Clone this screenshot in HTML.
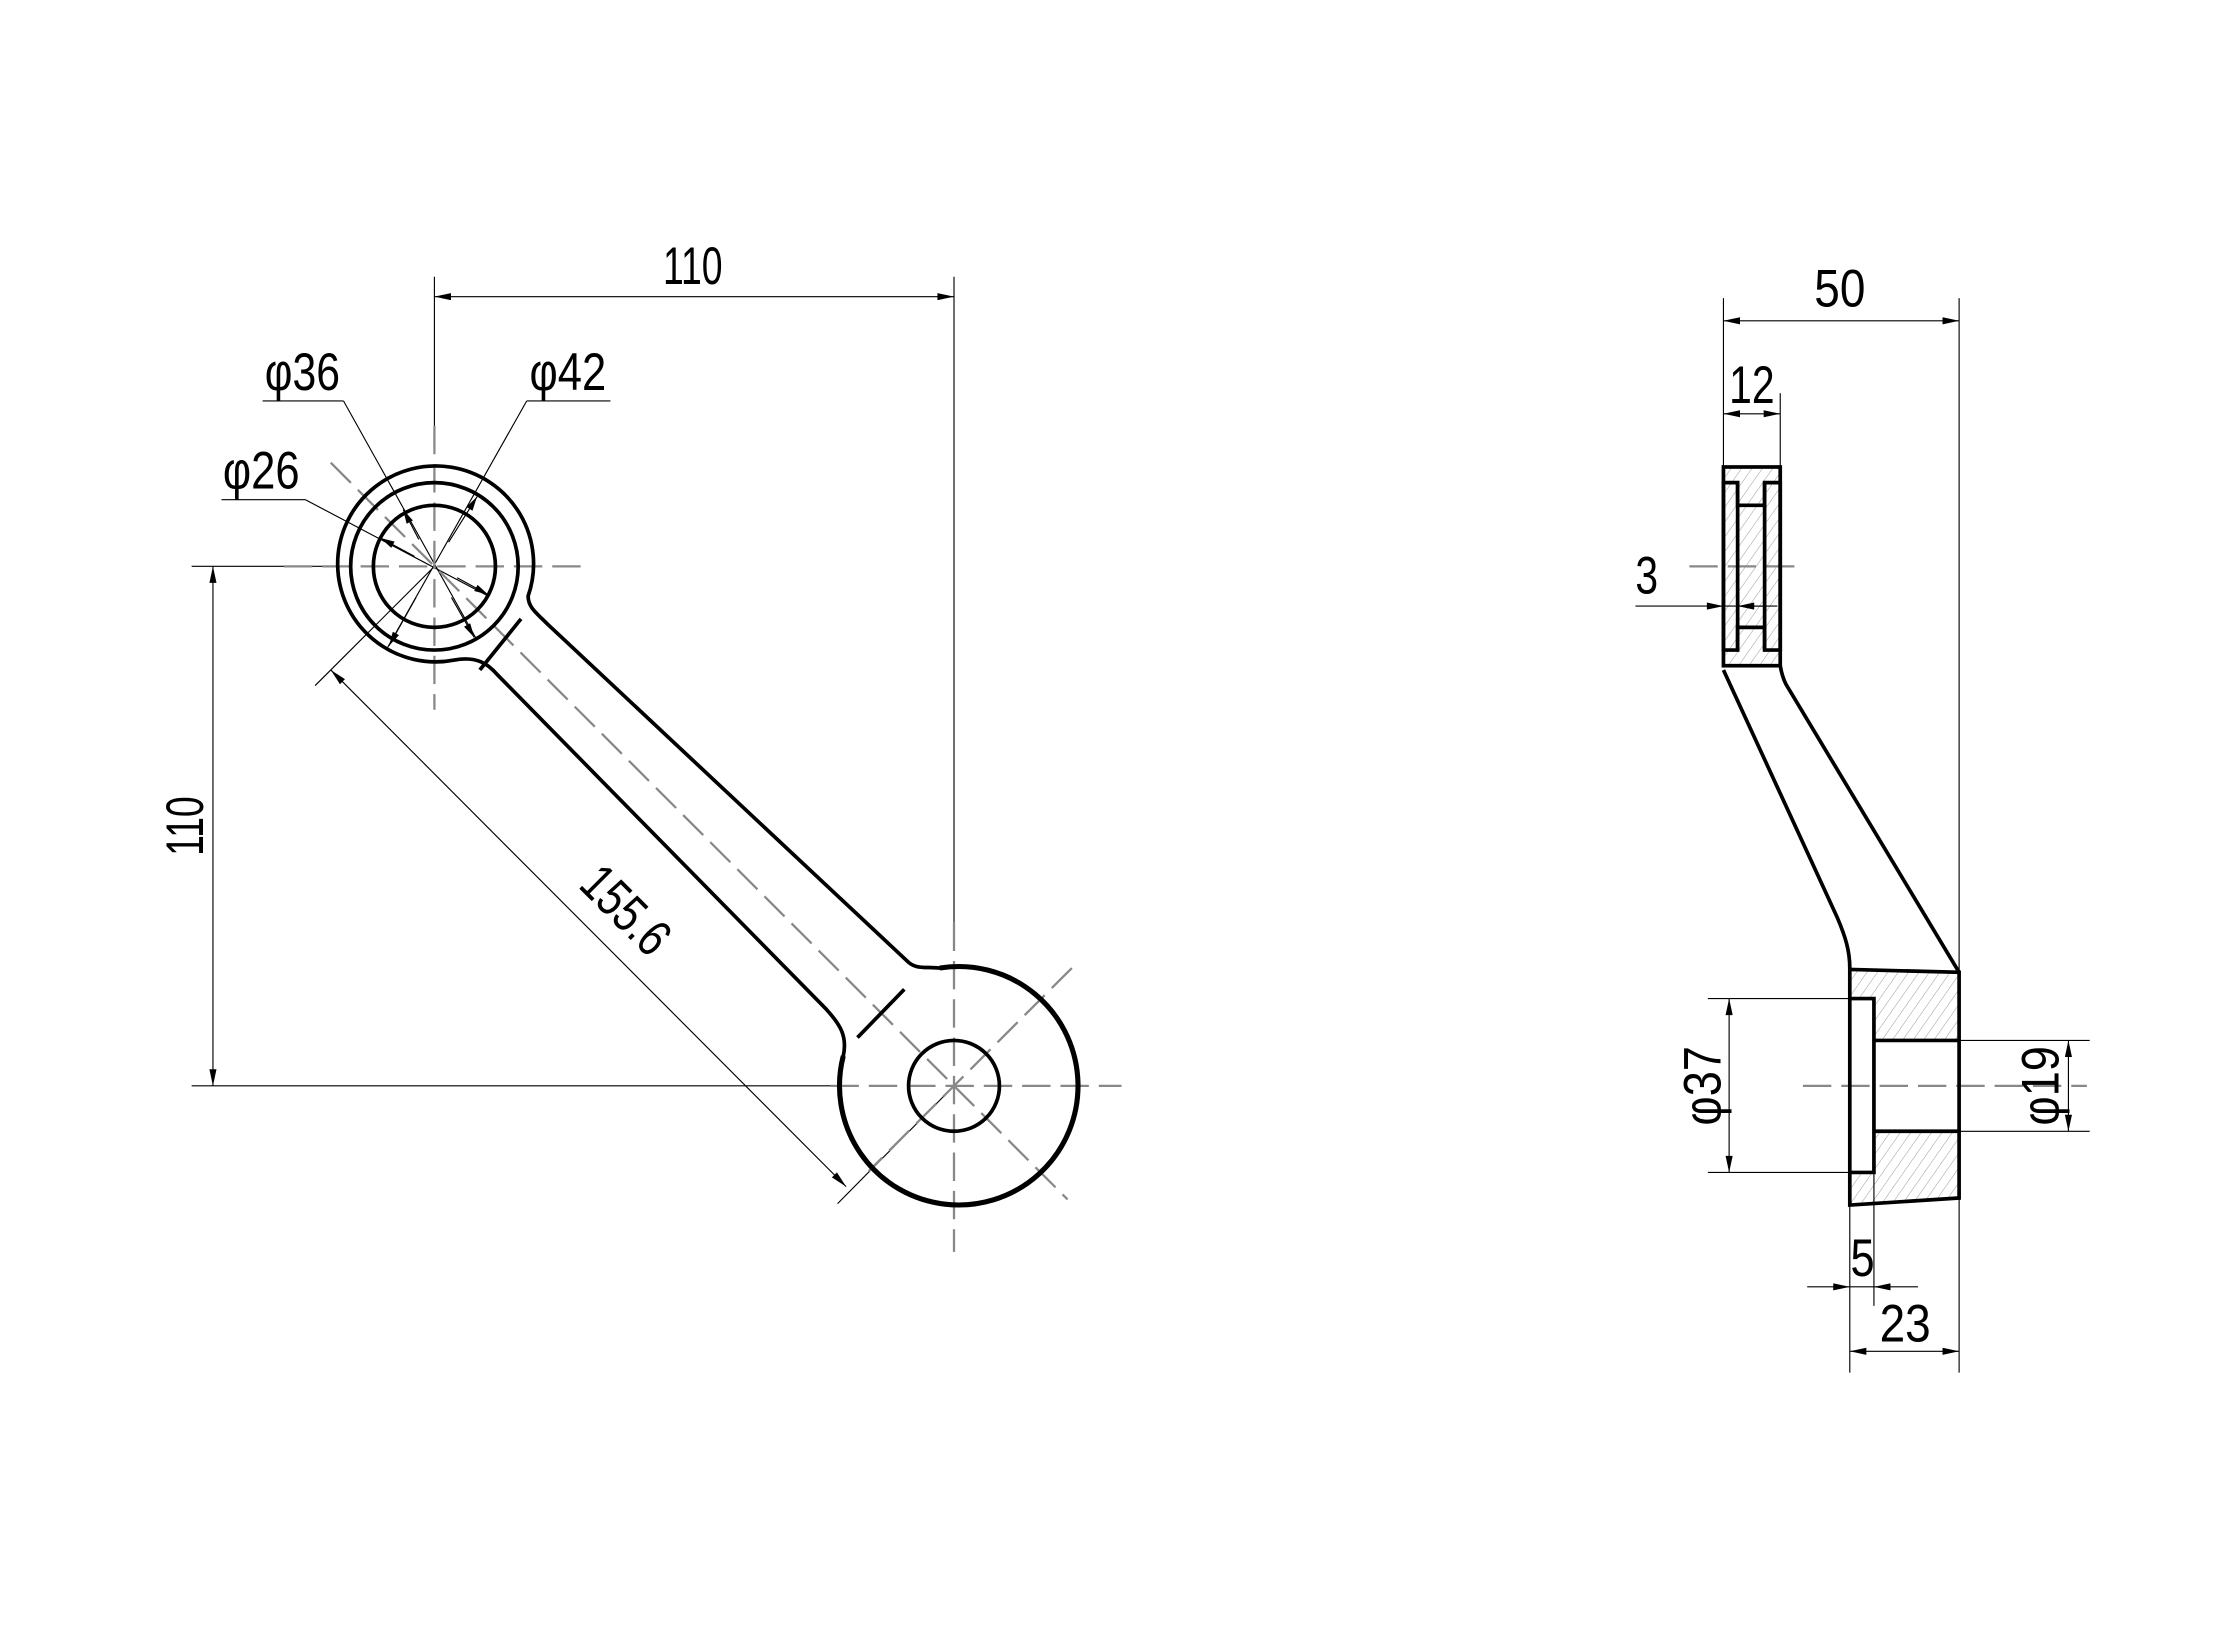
<!DOCTYPE html>
<html><head><meta charset="utf-8"><style>html,body{margin:0;padding:0;background:#fff}svg{display:block}</style></head>
<body>
<svg width="2226" height="1638" viewBox="0 0 1568 1154" preserveAspectRatio="none" xmlns="http://www.w3.org/2000/svg">
<defs>
<marker id="a" viewBox="0 0 14 6" refX="14" refY="3" markerWidth="14" markerHeight="5" markerUnits="userSpaceOnUse" orient="auto-start-reverse"><path d="M0,0 L14,3 L0,6 z" fill="#000"/></marker>
<marker id="s" viewBox="0 0 12 6" refX="12" refY="3" markerWidth="11" markerHeight="5" markerUnits="userSpaceOnUse" orient="auto"><path d="M0,0 L12,3 L0,6 z" fill="#000"/></marker>
<pattern id="h" width="6" height="6" patternUnits="userSpaceOnUse" patternTransform="rotate(35)"><line x1="0" y1="0" x2="0" y2="6" stroke="#999" stroke-width="0.7"/></pattern>
</defs>
<rect width="1568" height="1154" fill="#fff"/>
<g font-family="'Liberation Sans Narrow','Liberation Sans',sans-serif" font-size="37" fill="#000">

<!-- ===== LEFT VIEW ===== -->
<g stroke="#000" stroke-width="0.8" fill="none">
  <!-- top 110 dim -->
  <line x1="306" y1="195" x2="306" y2="300"/>
  <line x1="672" y1="195" x2="672" y2="650"/>
  <line x1="306" y1="209" x2="672" y2="209" marker-start="url(#a)" marker-end="url(#a)"/>
  <!-- left 110 dim -->
  <line x1="135" y1="399" x2="240" y2="399"/>
  <line x1="135" y1="765" x2="590" y2="765"/>
  <line x1="150" y1="399" x2="150" y2="765" marker-start="url(#a)" marker-end="url(#a)"/>
  <!-- 155.6 dim -->
  <line x1="222" y1="483" x2="306" y2="399"/>
  <line x1="590" y1="848" x2="672" y2="765"/>
  <line x1="233" y1="472" x2="596" y2="836" marker-start="url(#a)" marker-end="url(#a)"/>
  <!-- leaders -->
  <line x1="185" y1="282.5" x2="242" y2="282.5"/>
  <line x1="242" y1="282.5" x2="336" y2="451"/>
  <line x1="371" y1="282.5" x2="430" y2="282.5"/>
  <line x1="371" y1="282.5" x2="272" y2="458"/>
  <line x1="156" y1="352" x2="215" y2="352"/>
  <line x1="215" y1="352" x2="344" y2="420"/>
</g>
<!-- leader arrows -->
<g stroke="#000" stroke-width="0.8">
  <line x1="295" y1="380" x2="284" y2="359" marker-end="url(#s)"/>
  <line x1="318" y1="421" x2="334" y2="449" marker-end="url(#s)"/>
  <line x1="316" y1="382" x2="336" y2="350" marker-end="url(#s)"/>
  <line x1="293" y1="421" x2="274" y2="455" marker-end="url(#s)"/>
  <line x1="292" y1="392" x2="268" y2="379" marker-end="url(#s)"/>
  <line x1="322" y1="407" x2="344" y2="419" marker-end="url(#s)"/>
</g>
<text x="213" y="274.7" text-anchor="middle" textLength="53" lengthAdjust="spacingAndGlyphs">φ36</text>
<text x="400" y="274.7" text-anchor="middle" textLength="54" lengthAdjust="spacingAndGlyphs">φ42</text>
<text x="184" y="344" text-anchor="middle" textLength="54" lengthAdjust="spacingAndGlyphs">φ26</text>
<text x="488" y="200" text-anchor="middle" textLength="42" lengthAdjust="spacingAndGlyphs">110</text>
<text transform="translate(143,582) rotate(-90)" text-anchor="middle" textLength="42" lengthAdjust="spacingAndGlyphs">110</text>
<text transform="translate(432,650) rotate(45)" text-anchor="middle" textLength="72" lengthAdjust="spacingAndGlyphs">155.6</text>

<!-- centerlines -->
<g stroke="#888" stroke-width="1.6" fill="none" stroke-dasharray="20 7">
  <line x1="200" y1="399" x2="412" y2="399"/>
  <line x1="306" y1="300" x2="306" y2="500"/>
  <line x1="233" y1="326" x2="752" y2="845"/>
  <line x1="585" y1="765" x2="790" y2="765"/>
  <line x1="672" y1="650" x2="672" y2="882"/>
  <line x1="755" y1="682" x2="612" y2="825"/>
</g>

<!-- outline -->
<g stroke="#000" stroke-width="2.6" fill="none">
  <path d="M372,420 A69,69 0 1 0 320,465 C336,462 344,468 350,475 L582,711 C592,722 597,730 594,744 A84,84 0 1 0 662,682 C652,681 646,683 640,678 L386,440 C378,432 372,428 372,420 Z"/>
  <path d="M594,744 A84,84 0 1 0 662,682" stroke-width="3.6"/>
  <circle cx="306" cy="399" r="59"/>
  <circle cx="306" cy="399" r="43"/>
  <circle cx="672" cy="765" r="32"/>
  <line x1="338" y1="472" x2="367" y2="436"/>
  <line x1="604" y1="731" x2="637" y2="697"/>
</g>

<!-- ===== RIGHT VIEW ===== -->
<!-- hatch fills -->
<rect x="1214" y="329" width="40" height="140" fill="url(#h)"/>
<path d="M1303,683 L1380,685 L1380,844 L1303,849 Z" fill="url(#h)"/>
<rect x="1320" y="733" width="60" height="64" fill="#fff"/>
<rect x="1303" y="703.5" width="17" height="122.5" fill="#fff"/>

<g stroke="#000" stroke-width="0.8" fill="none">
  <!-- 50 -->
  <line x1="1214" y1="210" x2="1214" y2="329"/>
  <line x1="1380" y1="210" x2="1380" y2="967"/>
  <line x1="1214" y1="226" x2="1380" y2="226" marker-start="url(#a)" marker-end="url(#a)"/>
  <!-- 12 -->
  <line x1="1254" y1="277" x2="1254" y2="329"/>
  <line x1="1214" y1="291.5" x2="1254" y2="291.5" marker-start="url(#a)" marker-end="url(#a)"/>
  <!-- 3 -->
  <line x1="1152" y1="427" x2="1214" y2="427" marker-end="url(#a)"/>
  <line x1="1214" y1="427" x2="1252" y2="427"/>
  <line x1="1244" y1="427" x2="1224" y2="427" marker-end="url(#a)"/>
  <!-- φ37 -->
  <line x1="1203" y1="703.5" x2="1303" y2="703.5"/>
  <line x1="1203" y1="826" x2="1303" y2="826"/>
  <line x1="1218" y1="703.5" x2="1218" y2="826" marker-start="url(#a)" marker-end="url(#a)"/>
  <!-- φ19 -->
  <line x1="1380" y1="733" x2="1472" y2="733"/>
  <line x1="1380" y1="797" x2="1472" y2="797"/>
  <line x1="1457" y1="733" x2="1457" y2="797" marker-start="url(#a)" marker-end="url(#a)"/>
  <!-- 5 -->
  <line x1="1303" y1="849" x2="1303" y2="967"/>
  <line x1="1320" y1="826" x2="1320" y2="920"/>
  <line x1="1273" y1="906.6" x2="1303" y2="906.6" marker-end="url(#a)"/>
  <line x1="1351" y1="906.6" x2="1320" y2="906.6" marker-end="url(#a)"/>
  <line x1="1303" y1="906.6" x2="1320" y2="906.6"/>
  <!-- 23 -->
  <line x1="1303" y1="952" x2="1380" y2="952" marker-start="url(#a)" marker-end="url(#a)"/>
</g>
<g stroke="#888" stroke-width="1.6" stroke-dasharray="20 7">
  <line x1="1190" y1="399" x2="1270" y2="399"/>
  <line x1="1270" y1="765" x2="1470" y2="765"/>
</g>
<g stroke="#000" stroke-width="2.6" fill="none">
  <rect x="1214" y="329" width="40" height="140"/>
  <path d="M1214,340 L1224,340 L1224,356 L1243,356 L1243,340 L1254,340 L1254,458 L1243,458 L1243,442 L1224,442 L1224,458 L1214,458 Z" fill="#fff" fill-opacity="0"/>
  <line x1="1224" y1="340" x2="1224" y2="458"/>
  <line x1="1243" y1="340" x2="1243" y2="458"/>
  <path d="M1214,472 L1294,646 C1300,660 1303,670 1303,682"/>
  <path d="M1254,469 C1255,475 1256,478 1258,482 L1380,685"/>
  <path d="M1303,683 L1380,685 L1380,844 L1303,849 Z"/>
  <path d="M1303,703.5 L1320,703.5 L1320,826 L1303,826"/>
  <line x1="1320" y1="733" x2="1380" y2="733"/>
  <line x1="1320" y1="797" x2="1380" y2="797"/>
</g>
<text x="1296" y="216" text-anchor="middle" textLength="36" lengthAdjust="spacingAndGlyphs">50</text>
<text x="1234" y="284" text-anchor="middle" textLength="32" lengthAdjust="spacingAndGlyphs">12</text>
<text x="1160" y="418" text-anchor="middle" textLength="16" lengthAdjust="spacingAndGlyphs">3</text>
<text transform="translate(1212,765) rotate(-90)" text-anchor="middle" textLength="56" lengthAdjust="spacingAndGlyphs">φ37</text>
<text transform="translate(1450,765) rotate(-90)" text-anchor="middle" textLength="56" lengthAdjust="spacingAndGlyphs">φ19</text>
<text x="1312" y="899" text-anchor="middle" textLength="17" lengthAdjust="spacingAndGlyphs">5</text>
<text x="1342" y="945" text-anchor="middle" textLength="36" lengthAdjust="spacingAndGlyphs">23</text>
</g>
</svg>
</body></html>
